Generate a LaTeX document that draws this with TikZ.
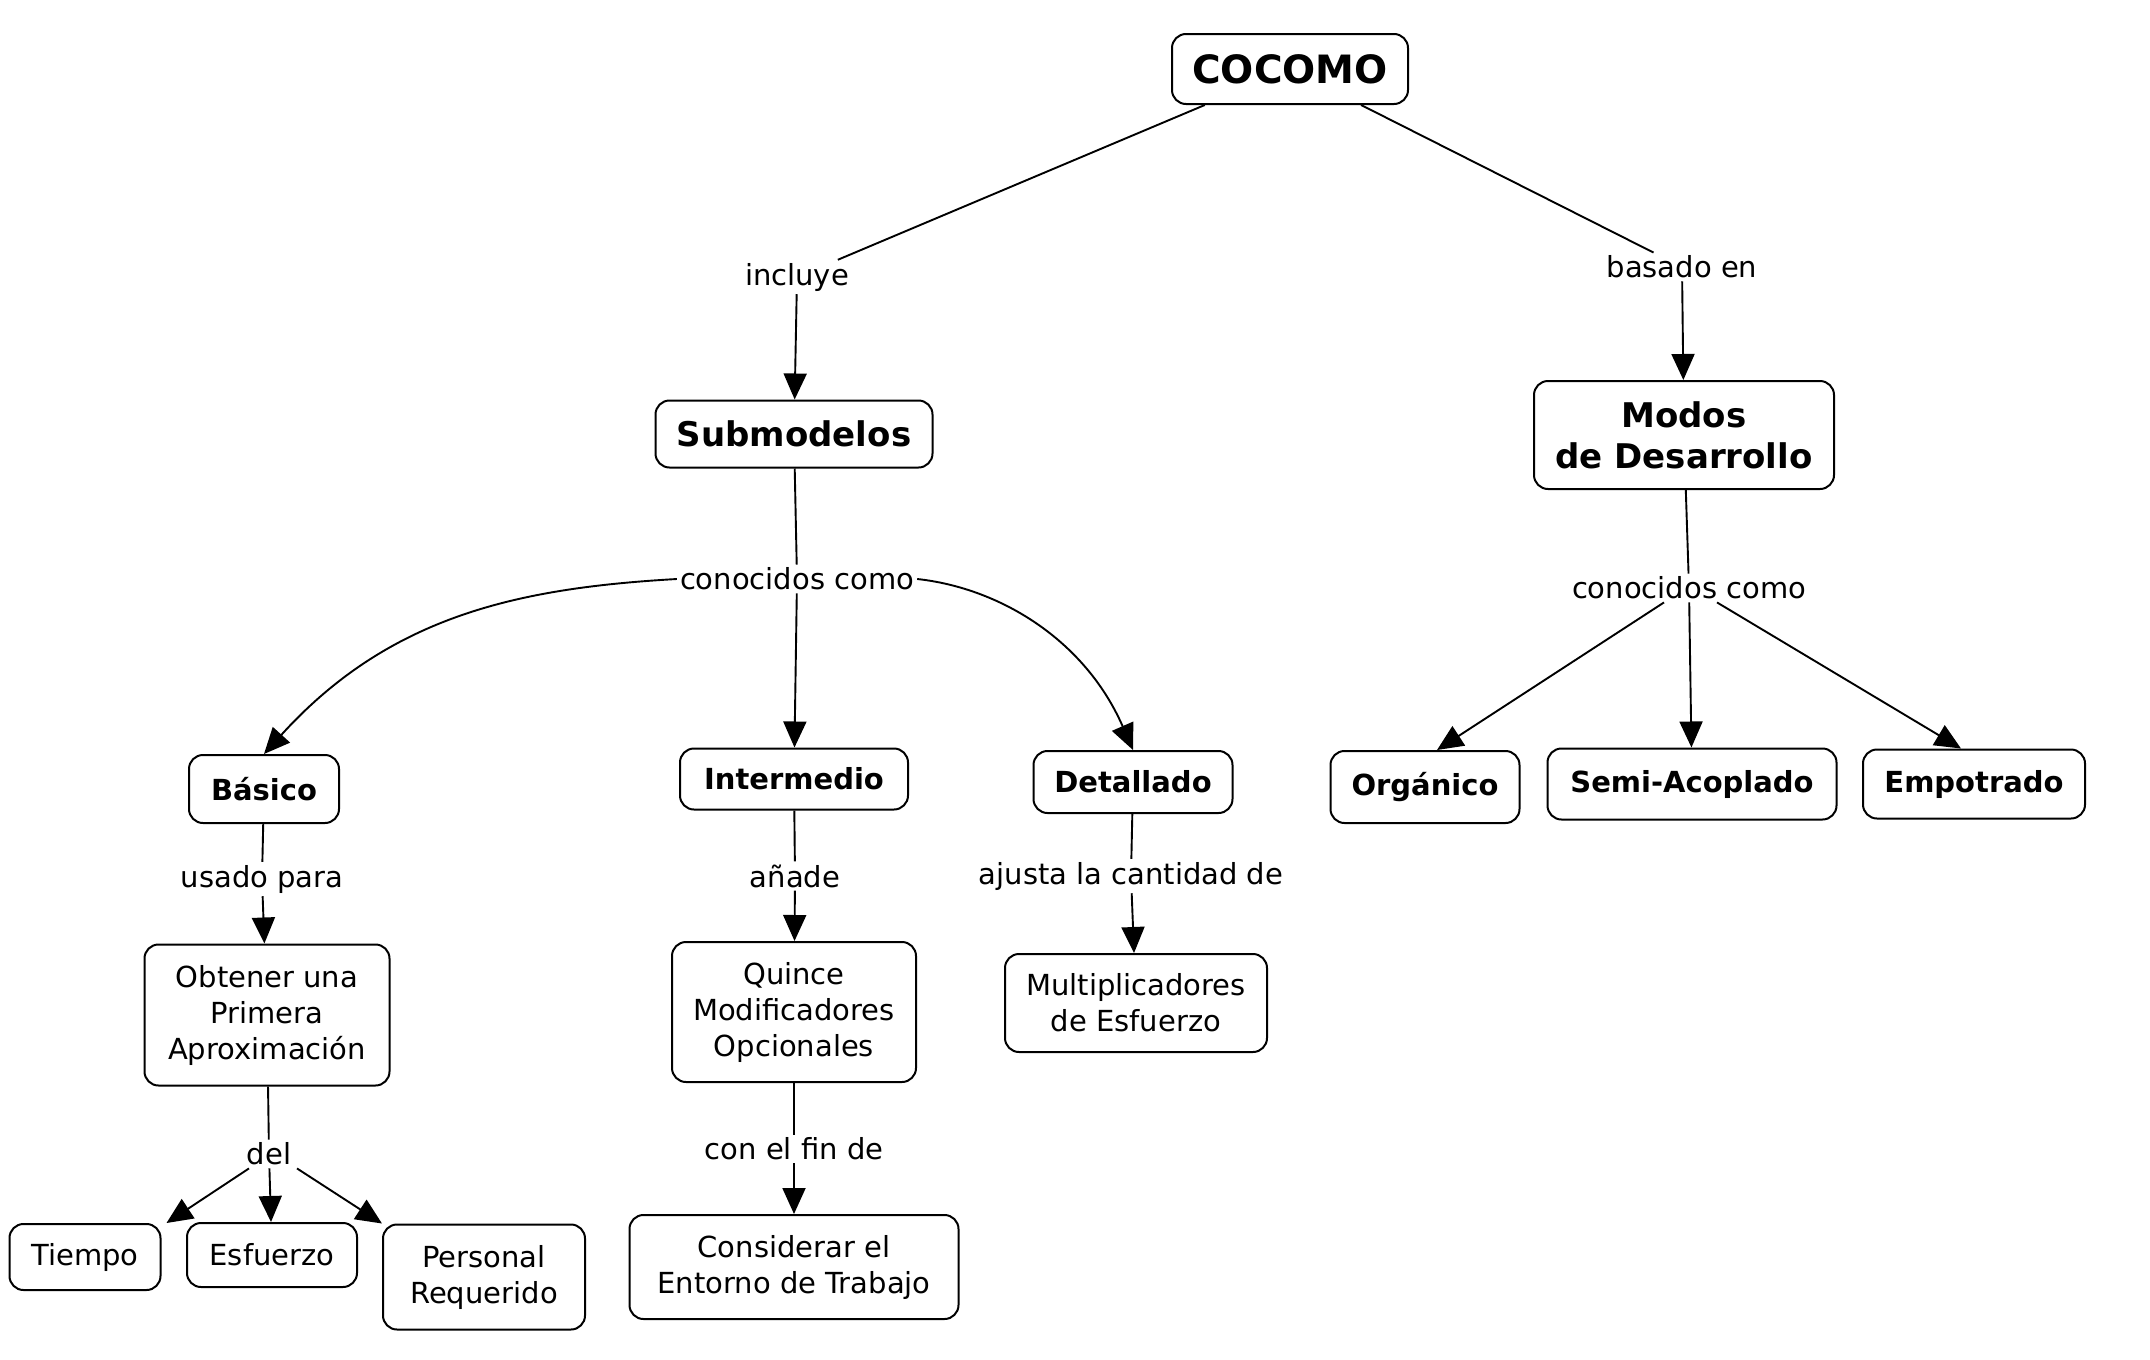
\documentclass[tikz,border=0pt]{standalone}
\usepackage{fontspec}
\setmainfont{DejaVu Sans}
\usetikzlibrary{arrows.meta}
\begin{document}
\begin{tikzpicture}[x=1pt,y=-1pt,
  box/.style={draw, line width=2pt, rounded corners=14pt, align=center, inner sep=0pt, fill=white, font=\fontsize{29}{36}\selectfont},
  boldbox/.style={box, font=\fontsize{29}{36}\selectfont\bfseries},
  bigbox/.style={box, font=\fontsize{34}{41}\selectfont\bfseries},
  lbl/.style={inner sep=3pt, font=\fontsize{29}{36}\selectfont},
  link/.style={line width=1.9pt},
  arr/.style={link, -{Triangle[length=26pt,width=23pt]}}]
\fill[white] (0,0) rectangle (2150,1360);
\useasboundingbox (0,0) rectangle (2150,1360);

% concept nodes
\node[box, font=\fontsize{39}{46}\selectfont\bfseries, minimum width=236pt, minimum height=70pt] (cocomo) at (1290,69) {COCOMO};
\node[bigbox, minimum width=277pt, minimum height=67pt] (sub) at (794,434) {Submodelos};
\node[bigbox, minimum width=300pt, minimum height=108pt] (modos) at (1684,435) {Modos\\de Desarrollo};
\node[boldbox, minimum width=150pt, minimum height=68pt] (basico) at (264,789) {Básico};
\node[boldbox, minimum width=228pt, minimum height=61pt] (inter) at (794,779) {Intermedio};
\node[boldbox, minimum width=199pt, minimum height=62pt] (det) at (1133,782) {Detallado};
\node[boldbox, minimum width=189pt, minimum height=72pt] (org) at (1425,787) {Orgánico};
\node[boldbox, minimum width=289pt, minimum height=71pt] (semi) at (1692,784) {Semi-Acoplado};
\node[boldbox, minimum width=222pt, minimum height=69pt] (emp) at (1974,784) {Empotrado};
\node[box, minimum width=245pt, minimum height=141pt] (obt) at (267,1015) {Obtener una\\Primera\\Aproximación};
\node[box, minimum width=244pt, minimum height=140pt] (quince) at (794,1012) {Quince\\Modificadores\\Opcionales};
\node[box, minimum width=262pt, minimum height=98pt] (mult) at (1136,1003) {Multiplicadores\\de Esfuerzo};
\node[box, minimum width=329pt, minimum height=104pt] (cons) at (794,1267) {Considerar el\\Entorno de Trabajo};
\node[box, minimum width=151pt, minimum height=66pt] (tiempo) at (85,1257) {Tiempo};
\node[box, minimum width=170pt, minimum height=64pt] (esf) at (272,1255) {Esfuerzo};
\node[box, minimum width=202pt, minimum height=105pt] (pers) at (484,1277) {Personal\\Requerido};

% linking phrases
\node[lbl] (l1) at (797,277) {incluye};
\node[lbl] (l2) at (1682,267) {basado en};
\node[lbl] (cc1) at (797,579) {conocidos como};
\node[lbl] (cc2) at (1689,588) {conocidos como};
\node[lbl] (l3) at (262,879) {usado para};
\node[lbl] (l4) at (795,876) {añade};
\node[lbl] (l5) at (1131,876) {ajusta la cantidad de};
\node[lbl] (l6) at (269,1154) {del};
\node[lbl] (l7) at (794,1149) {con el fin de};

% connectors
\draw[link] (cocomo) -- (l1);
\draw[arr] (l1) -- (sub);
\draw[link] (cocomo) -- (l2);
\draw[arr] (l2) -- (modos);

\draw[link] (sub) -- (cc1);
\draw[arr] (cc1.west) .. controls (520,588) and (390,615) .. (basico.north);
\draw[arr] (cc1) -- (inter);
\draw[arr] (cc1.east) .. controls (1000,588) and (1085,640) .. (det.north);

\draw[link] (modos) -- (cc2);
\draw[arr] ([xshift=-25pt]cc2.south) -- ([xshift=12pt]org.north);
\draw[arr] (cc2) -- (semi);
\draw[arr] ([xshift=28pt]cc2.south) -- ([xshift=-13pt]emp.north);

\draw[link] (basico) -- (l3);
\draw[arr] (l3) -- (obt);
\draw[link] (obt) -- (l6);
\draw[arr] ([xshift=-20pt]l6.south) -- ([xshift=5pt]tiempo.north east);
\draw[arr] (l6) -- (esf);
\draw[arr] ([xshift=28pt]l6.south) -- (pers.north west);

\draw[link] (inter) -- (l4);
\draw[arr] (l4) -- (quince);
\draw[link] (quince) -- (l7);
\draw[arr] (l7) -- (cons);

\draw[link] (det) -- (l5);
\draw[arr] (l5) -- (mult);
\end{tikzpicture}
\end{document}
